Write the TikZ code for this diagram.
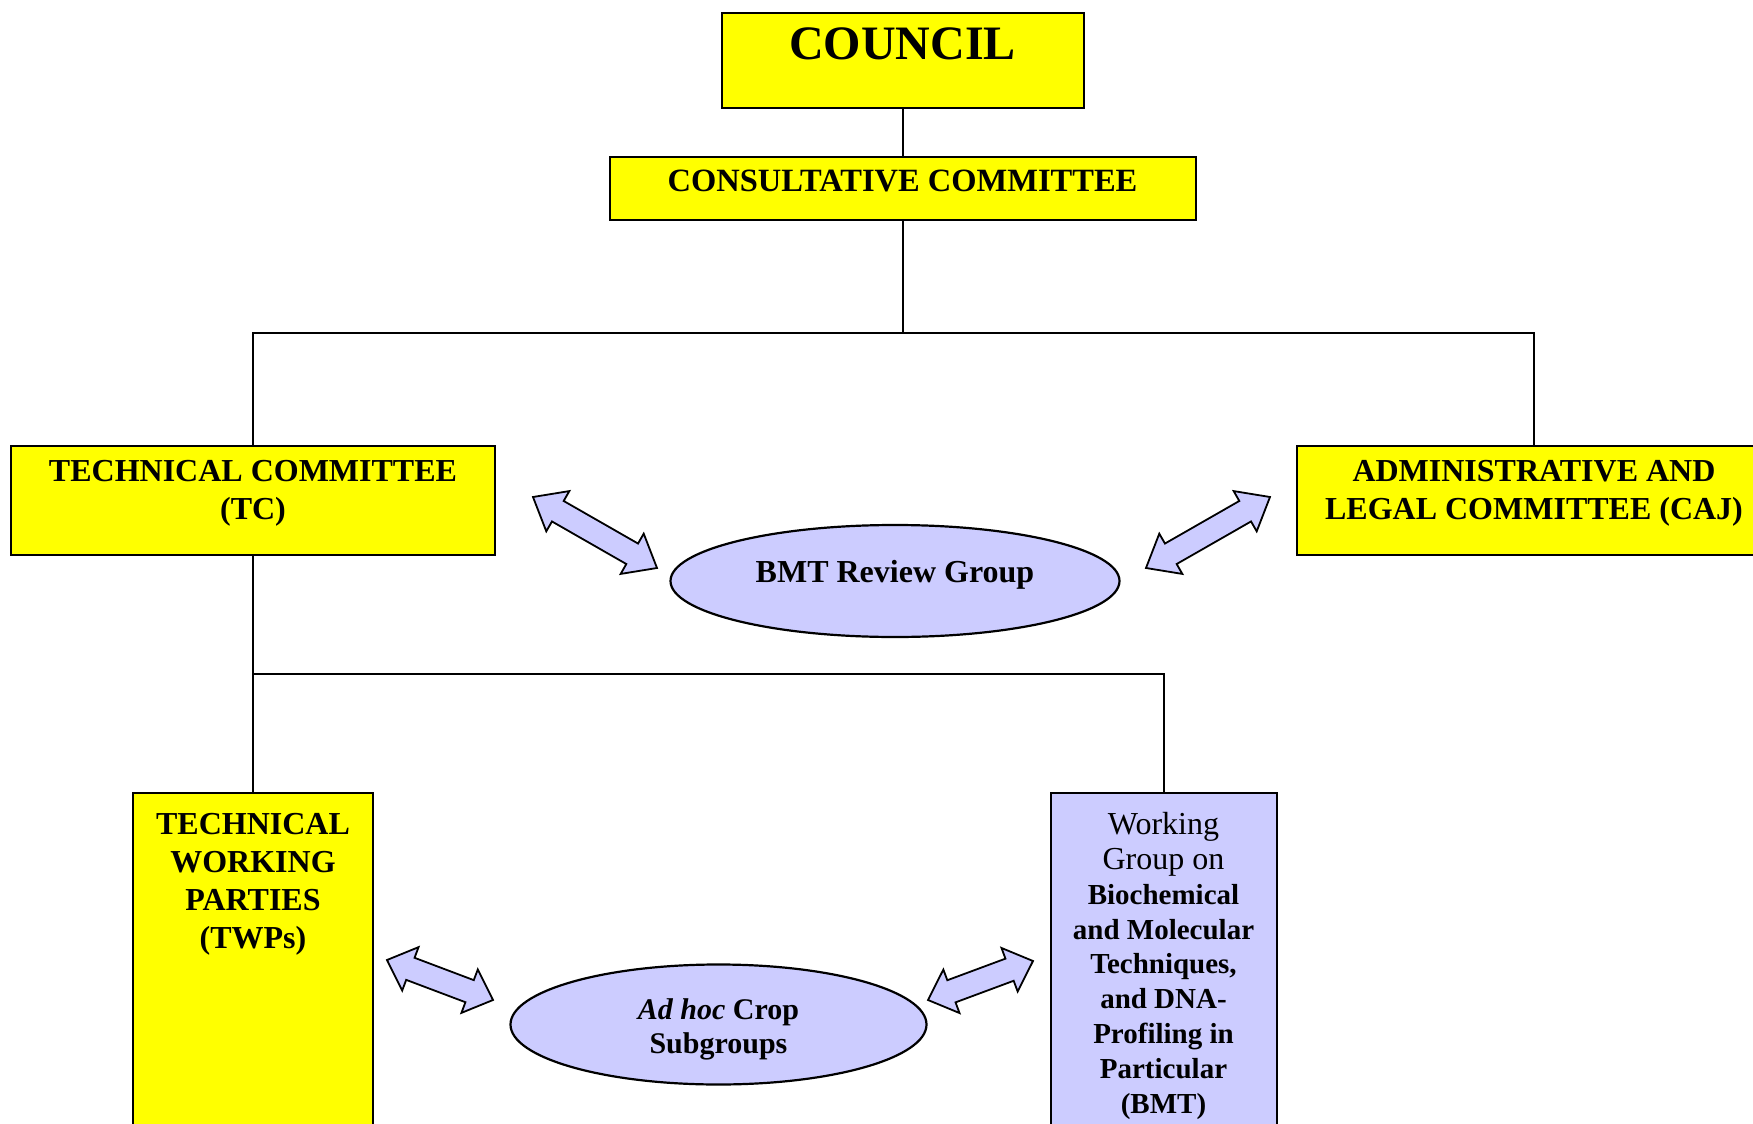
\documentclass[tikz,border=0pt]{standalone}
\usepackage{fontspec}
\setmainfont{Liberation Serif}
\usetikzlibrary{calc,shapes.geometric}
\definecolor{boxyellow}{HTML}{FFFF00}
\definecolor{lav}{HTML}{CCCCFF}
\newcommand\mstack[1]{\begin{tabular}[t]{@{}c@{}}#1\end{tabular}}
% block double arrow between two named coordinates; #3 = head length
\newcommand\blockarrow[3]{%
  \filldraw[barrow] (#1)
    -- ($(#1)!#3!(#2)!11.6pt!90:(#2)$)
    -- ($(#1)!#3!(#2)!5.9pt!90:(#2)$)
    -- ($(#2)!#3!(#1)!5.9pt!-90:(#1)$)
    -- ($(#2)!#3!(#1)!11.6pt!-90:(#1)$)
    -- (#2)
    -- ($(#2)!#3!(#1)!11.6pt!90:(#1)$)
    -- ($(#2)!#3!(#1)!5.9pt!90:(#1)$)
    -- ($(#1)!#3!(#2)!5.9pt!-90:(#2)$)
    -- ($(#1)!#3!(#2)!11.6pt!-90:(#2)$)
    -- cycle;}
\tikzset{
  box/.style={draw, line width=1.2pt, fill=boxyellow, inner sep=0pt, outer sep=0pt, anchor=north west},
  lavbox/.style={box, fill=lav},
  oval/.style={ellipse, draw, line width=1.1pt, fill=lav, inner sep=0pt},
  conn/.style={line width=1pt},
  lbl/.style={anchor=base, inner sep=0pt, align=center},
  big/.style={font={\fontsize{24}{28}\selectfont\bfseries}},
  main/.style={font={\fontsize{16}{19}\selectfont\bfseries}},
  small/.style={font={\fontsize{14.5}{17.45}\selectfont}},
  adhoc/.style={font={\fontsize{15}{17}\selectfont\bfseries}},
  barrow/.style={draw, line width=0.9pt, fill=lav, line join=miter},
}
\begin{document}
\begin{tikzpicture}[x=0.5pt,y=-0.5pt]
\useasboundingbox (0,0) rectangle (1753,1124);
% boxes
\node[box, minimum width=181pt, minimum height=47.5pt] (council) at (722,13) {};
\node[box, minimum width=293pt, minimum height=31.5pt] (consult) at (610,157) {};
\node[box, minimum width=242pt, minimum height=54.5pt] (tc) at (11,446) {};
\node[box, minimum width=237pt, minimum height=54.5pt] (caj) at (1297,446) {};
\node[box, minimum width=120pt, minimum height=171pt] (twp) at (133,793) {};
\node[lavbox, minimum width=113pt, minimum height=171pt] (bmt) at (1051,793) {};
% ellipses
\node[oval, minimum width=224.5pt, minimum height=56pt] (review) at (895,581) {};
\node[oval, minimum width=208pt, minimum height=60pt] (adhoc) at (718.5,1024.5) {};
% texts
\node[lbl, big] (councilT) at (902.5,60) {COUNCIL};
\node[lbl, main, font={\fontsize{16.25}{19}\selectfont\bfseries}] (consultT) at (902.5,191.7) {CONSULTATIVE COMMITTEE};
\node[lbl, main] (tcT) at (253,481.7) {\mstack{TECHNICAL COMMITTEE\\(TC)}};
\node[lbl, main] (cajT) at (1534,481.7) {\mstack{ADMINISTRATIVE AND\\LEGAL COMMITTEE (CAJ)}};
\node[lbl, main] (reviewT) at (895,582) {BMT Review Group};
\node[lbl, main] (twpT) at (253,834.3) {\mstack{TECHNICAL\\WORKING\\PARTIES\\(TWPs)}};
\node[lbl, small] (bmtT) at (1163.5,834.3) {\mstack{{\fontsize{16}{17.45}\selectfont Working}\\{\fontsize{16}{17.45}\selectfont Group on}\\\textbf{Biochemical}\\\textbf{and Molecular}\\\textbf{Techniques,}\\\textbf{and DNA-}\\\textbf{Profiling in}\\\textbf{Particular}\\\textbf{(BMT)}}};
\node[lbl, adhoc] (adhocT) at (718.5,1019) {\mstack{\textit{Ad hoc} Crop\\Subgroups}};
% connectors
\coordinate (hline) at (0,333);
\coordinate (mline) at (0,674);
\coordinate (jtop) at (consult.south |- hline);
\coordinate (jmid) at (tc.south |- mline);
\draw[conn] (council.south) -- (consult.north);
\draw[conn] (consult.south) -- (jtop);
\draw[conn] (tc.north) -- (tc.north |- jtop) -- (jtop -| caj.north) -- (caj.north);
\draw[conn] (tc.south) -- (jmid);
\draw[conn] (twp.north) -- (twp.north |- jmid) -- (jmid -| bmt.north) -- (bmt.north);
% block arrows
\coordinate (ulA) at (533,497);  \coordinate (ulB) at (657,568);
\coordinate (urA) at (1270,497); \coordinate (urB) at (1146,568);
\coordinate (llA) at (387,960);  \coordinate (llB) at (493,1000);
\coordinate (lrA) at (1033,961); \coordinate (lrB) at (928,1000);
\blockarrow{ulA}{ulB}{14.3pt}
\blockarrow{urA}{urB}{14.3pt}
\blockarrow{llA}{llB}{12.5pt}
\blockarrow{lrA}{lrB}{12.5pt}
\end{tikzpicture}
\end{document}
